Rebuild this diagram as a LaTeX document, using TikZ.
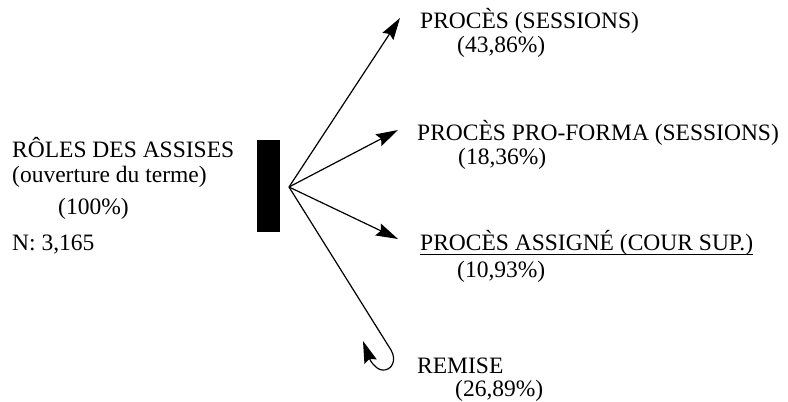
\documentclass[tikz,border=0pt]{standalone}
\usepackage{fontspec}
\setmainfont{Liberation Serif}
\usetikzlibrary{arrows.meta}
\tikzset{
  lbl/.style={anchor=base west, inner sep=0pt, font=\fontsize{23.5}{28}\selectfont},
  flow/.style={line width=1.2pt, -{Stealth[length=22pt,width=13pt,inset=3pt]}},
}
\begin{document}
\begin{tikzpicture}[x=1pt,y=-1pt]
\useasboundingbox (0,0) rectangle (788,402);

% source block and its label
\node[lbl] (roles) at (12,157) {RÔLES DES ASSISES};
\node[lbl] (ouv) at (12,182) {(ouverture du terme)};
\node[lbl] (cent) at (58,214) {(100\%)};
\node[lbl] (n) at (12,250) {N: 3,165};
\fill (257,140) rectangle (280,232);
\coordinate (src) at (289,187);

% outcomes
\node[lbl] (proces) at (420,28) {PROCÈS (SESSIONS)};
\node[lbl] (p1) at (457,52) {(43,86\%)};
\node[lbl] (forma) at (417,140) {PROCÈS PRO-FORMA (SESSIONS)};
\node[lbl] (p2) at (458,164) {(18,36\%)};
\node[lbl] (assigne) at (420,250) {PROCÈS ASSIGNÉ (COUR SUP.)};
\node[lbl] (p3) at (457,277) {(10,93\%)};
\node[lbl] (remise) at (417,373) {REMISE};
\node[lbl] (p4) at (455,396) {(26,89\%)};
\draw[line width=1pt] ([yshift=-4pt]assigne.base west) -- ([yshift=-4pt]assigne.base east);

% connectors
\coordinate (t1) at (400,18);
\coordinate (t2) at (398,130);
\coordinate (t3) at (398,239);
\coordinate (t4) at (363,341);
\draw[flow] (src) -- (t1);
\draw[flow] (src) -- (t2);
\draw[flow] (src) -- (t3);
\draw[flow] (src) -- (391,350)
  .. controls (397,360) and (392,371) .. (382,370)
  .. controls (375,369) and (370,360) .. (t4);
\end{tikzpicture}
\end{document}
